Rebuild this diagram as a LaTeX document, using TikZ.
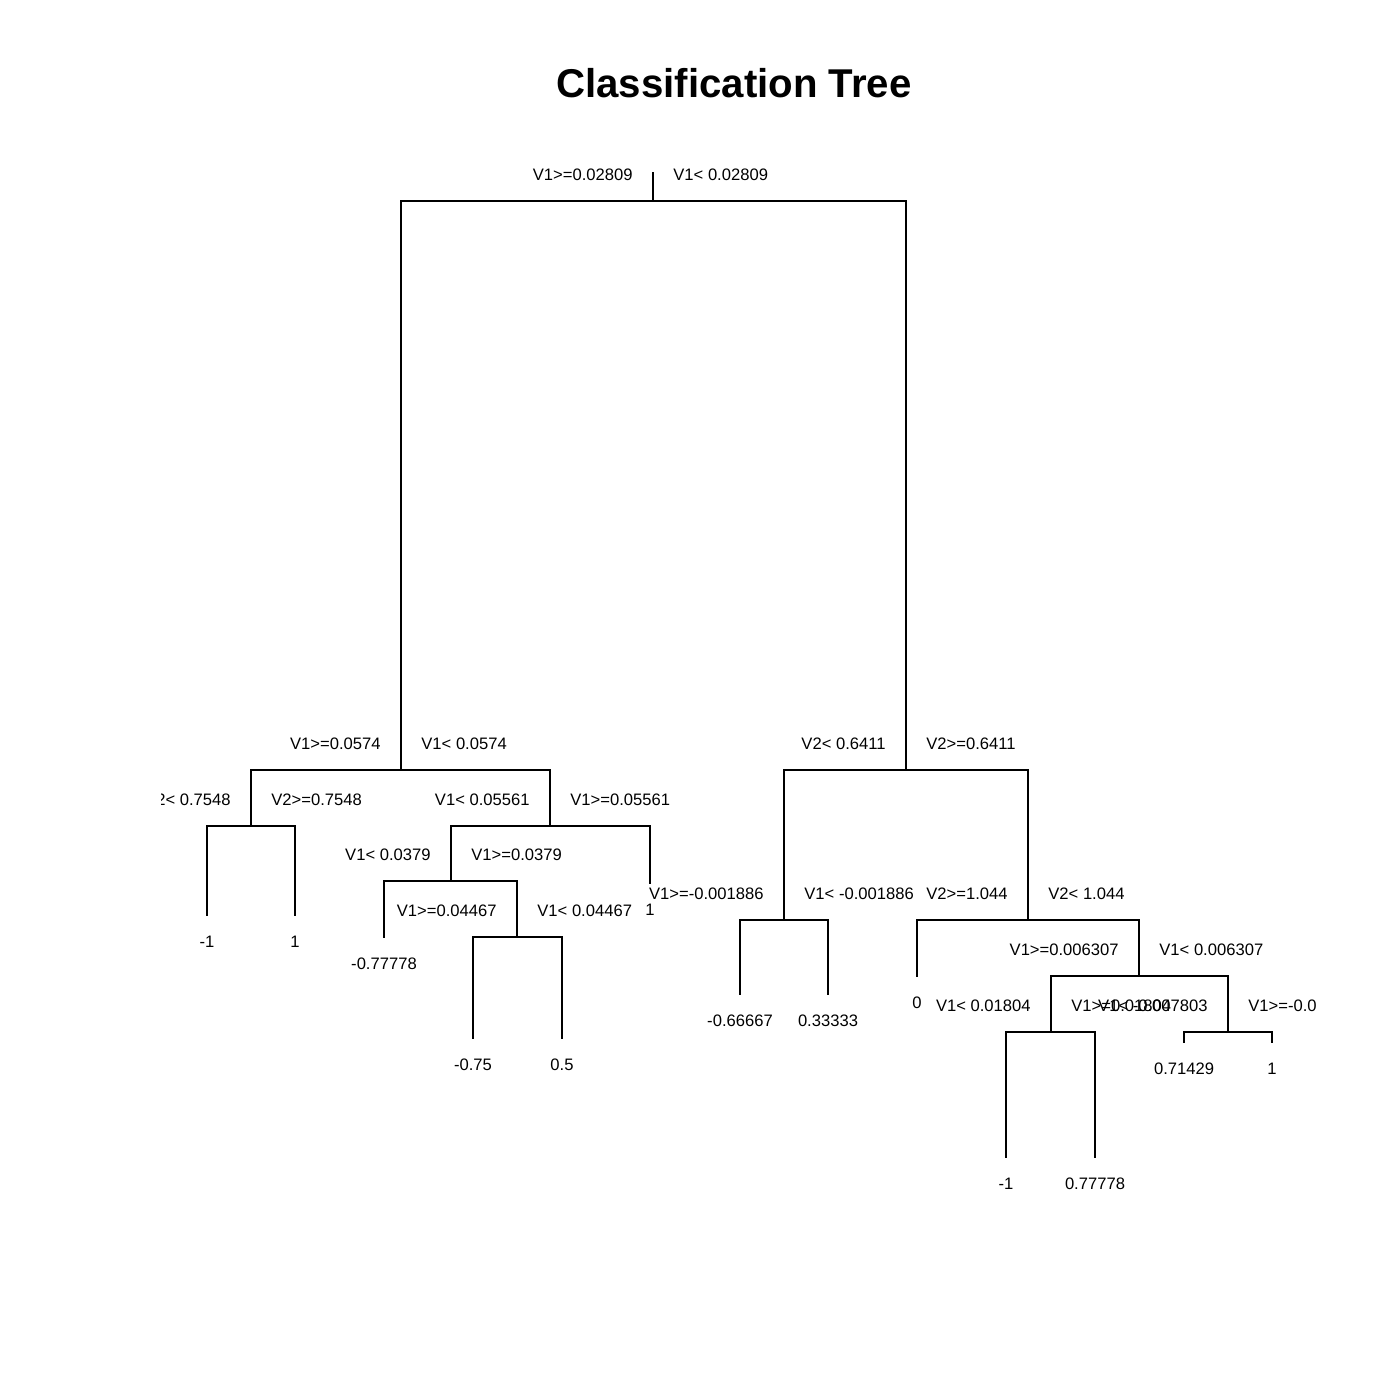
\documentclass[tikz,border=0pt]{standalone}
\usepackage{fontspec}
\setmainfont{Liberation Sans}
\begin{document}
\begin{tikzpicture}[x=0.5pt,y=-0.5pt,
  edge/.style={line width=1pt,line cap=rect},
  lab/.style={font=\fontsize{8.3}{10}\selectfont,inner sep=0pt,text=black},
  llab/.style={lab,anchor=east},
  rlab/.style={lab,anchor=west},
  leaflab/.style={lab,anchor=center}]
\useasboundingbox[fill=white] (0,0) rectangle (1400,1400);
\node (title) [font=\fontsize{20.1}{24}\selectfont\bfseries] at (734,83) {Classification Tree};
% tree nodes
\coordinate (rt) at (653,173);
\coordinate (r) at (653,201);
\coordinate (A) at (401,770);
\coordinate (B) at (906,770);
\coordinate (A1) at (251,826);
\coordinate (A2) at (550,826);
\coordinate (L1) at (207,915);
\coordinate (L2) at (295,915);
\coordinate (A21) at (451,881);
\coordinate (L3) at (650,883);
\coordinate (L4) at (384,937);
\coordinate (A212) at (517,937);
\coordinate (L5) at (473,1038);
\coordinate (L6) at (562,1038);
\coordinate (B1) at (784,920);
\coordinate (B2) at (1028,920);
\coordinate (L7) at (740,994);
\coordinate (L8) at (828,994);
\coordinate (L9) at (917,976);
\coordinate (B22) at (1139,976);
\coordinate (B221) at (1051,1032);
\coordinate (B222) at (1228,1032);
\coordinate (L10) at (1006,1157);
\coordinate (L11) at (1095,1157);
\coordinate (L12) at (1184,1042);
\coordinate (L13) at (1272,1042);
\begin{scope}
\clip (161,0) rectangle (1316,1400);
\draw[edge] (rt) -- (r);
\draw[edge] (A) |- (r) -| (B);
\draw[edge] (A1) |- (A) -| (A2);
\draw[edge] (L1) |- (A1) -| (L2);
\draw[edge] (A21) |- (A2) -| (L3);
\draw[edge] (L4) |- (A21) -| (A212);
\draw[edge] (L5) |- (A212) -| (L6);
\draw[edge] (B1) |- (B) -| (B2);
\draw[edge] (L7) |- (B1) -| (L8);
\draw[edge] (L9) |- (B2) -| (B22);
\draw[edge] (B221) |- (B22) -| (B222);
\draw[edge] (L10) |- (B221) -| (L11);
\draw[edge] (L12) |- (B222) -| (L13);
% split labels
\node (sr1) [llab] at ([shift={(-20,-26.5)}]r) {V1>=0.02809};
\node (sr2) [rlab] at ([shift={(20,-26.5)}]r) {V1< 0.02809};
\node (sA1) [llab] at ([shift={(-20,-26.5)}]A) {V1>=0.0574};
\node (sA2) [rlab] at ([shift={(20,-26.5)}]A) {V1< 0.0574};
\node (sA11) [llab] at ([shift={(-20,-26.5)}]A1) {V2< 0.7548};
\node (sA12) [rlab] at ([shift={(20,-26.5)}]A1) {V2>=0.7548};
\node (sA21) [llab] at ([shift={(-20,-26.5)}]A2) {V1< 0.05561};
\node (sA22) [rlab] at ([shift={(20,-26.5)}]A2) {V1>=0.05561};
\node (sA211) [llab] at ([shift={(-20,-26.5)}]A21) {V1< 0.0379};
\node (sA212) [rlab] at ([shift={(20,-26.5)}]A21) {V1>=0.0379};
\node (sA2121) [llab] at ([shift={(-20,-26.5)}]A212) {V1>=0.04467};
\node (sA2122) [rlab] at ([shift={(20,-26.5)}]A212) {V1< 0.04467};
\node (sB1) [llab] at ([shift={(-20,-26.5)}]B) {V2< 0.6411};
\node (sB2) [rlab] at ([shift={(20,-26.5)}]B) {V2>=0.6411};
\node (sB11) [llab] at ([shift={(-20,-26.5)}]B1) {V1>=-0.001886};
\node (sB12) [rlab] at ([shift={(20,-26.5)}]B1) {V1< -0.001886};
\node (sB21) [llab] at ([shift={(-20,-26.5)}]B2) {V2>=1.044};
\node (sB22) [rlab] at ([shift={(20,-26.5)}]B2) {V2< 1.044};
\node (sB221) [llab] at ([shift={(-20,-26.5)}]B22) {V1>=0.006307};
\node (sB222) [rlab] at ([shift={(20,-26.5)}]B22) {V1< 0.006307};
\node (sB2211) [llab] at ([shift={(-20,-26.5)}]B221) {V1< 0.01804};
\node (sB2212) [rlab] at ([shift={(20,-26.5)}]B221) {V1>=0.01804};
\node (sB2221) [llab] at ([shift={(-20,-26.5)}]B222) {V1< -0.007803};
\node (sB2222) [rlab] at ([shift={(20,-26.5)}]B222) {V1>=-0.007803};
% leaf labels
\node (tL1) [leaflab] at ([shift={(0,27)}]L1) {-1};
\node (tL2) [leaflab] at ([shift={(0,27)}]L2) {1};
\node (tL3) [leaflab] at ([shift={(0,27)}]L3) {1};
\node (tL4) [leaflab] at ([shift={(0,27)}]L4) {-0.77778};
\node (tL5) [leaflab] at ([shift={(0,27)}]L5) {-0.75};
\node (tL6) [leaflab] at ([shift={(0,27)}]L6) {0.5};
\node (tL7) [leaflab] at ([shift={(0,27)}]L7) {-0.66667};
\node (tL8) [leaflab] at ([shift={(0,27)}]L8) {0.33333};
\node (tL9) [leaflab] at ([shift={(0,27)}]L9) {0};
\node (tL10) [leaflab] at ([shift={(0,27)}]L10) {-1};
\node (tL11) [leaflab] at ([shift={(0,27)}]L11) {0.77778};
\node (tL12) [leaflab] at ([shift={(0,27)}]L12) {0.71429};
\node (tL13) [leaflab] at ([shift={(0,27)}]L13) {1};
\end{scope}
\end{tikzpicture}
\end{document}
